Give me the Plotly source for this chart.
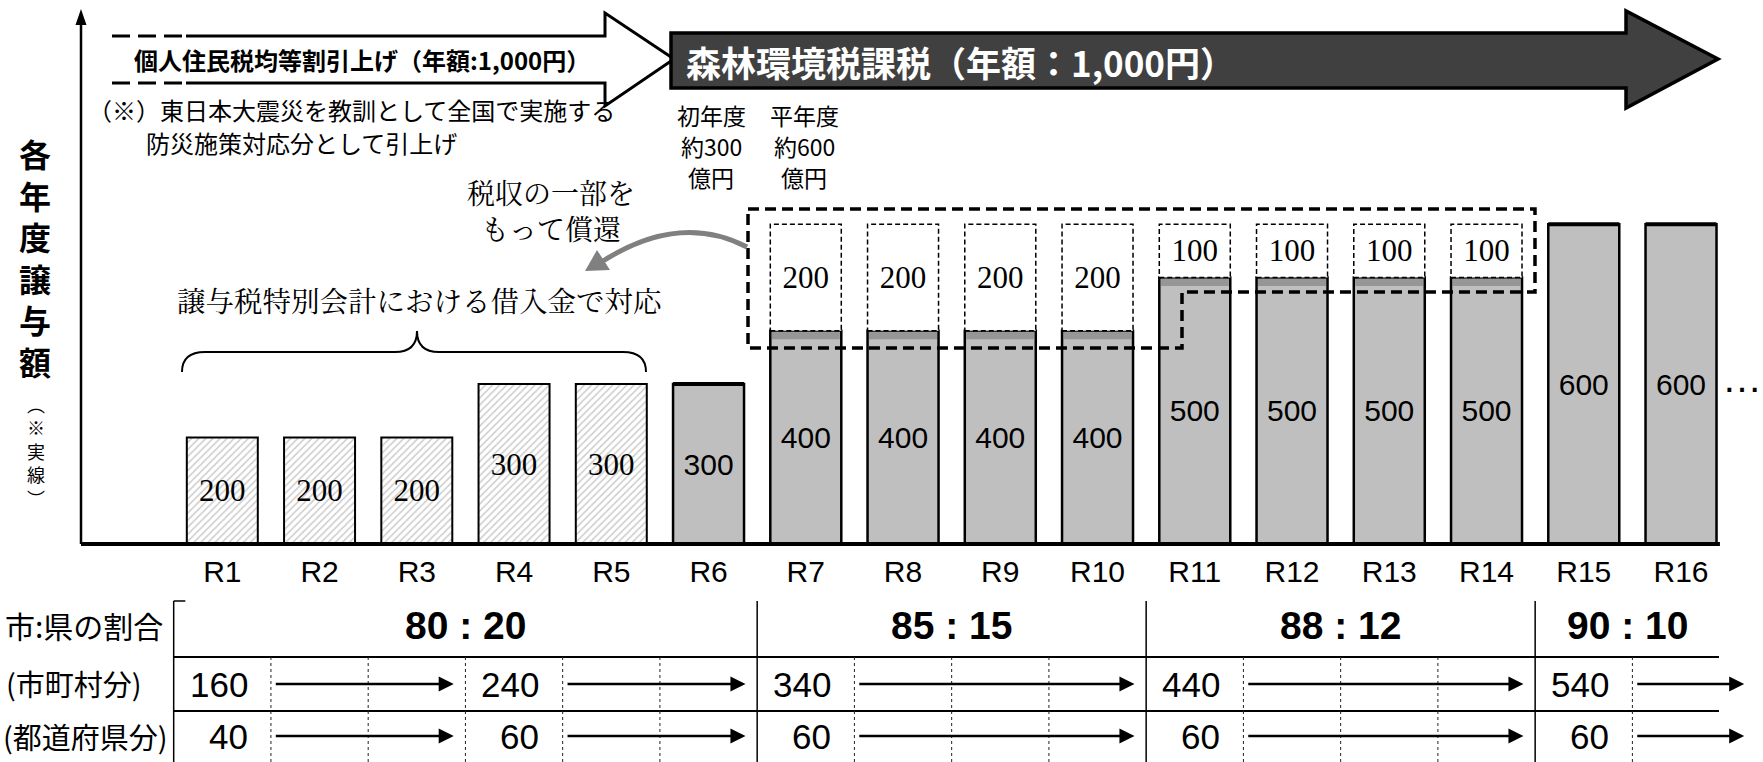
import plotly.graph_objects as go

# ---------------- data ----------------
years = ["R1", "R2", "R3", "R4", "R5", "R6", "R7", "R8",
         "R9", "R10", "R11", "R12", "R13", "R14", "R15", "R16"]
solid_amount = [200, 200, 200, 300, 300, 300, 400, 400,
                400, 400, 500, 500, 500, 500, 600, 600]
repayment = [0, 0, 0, 0, 0, 0, 200, 200,
             200, 200, 100, 100, 100, 100, 0, 0]
loan_funded = [True, True, True, True, True, False, False, False,
               False, False, False, False, False, False, False, False]
ratio_labels = ["80 : 20", "85 : 15", "88 : 12", "90 : 10"]
ratio_start = [1, 7, 11, 15]
share_start = [1, 4, 7, 11, 15]
municipal_share = [160, 240, 340, 440, 540]
prefectural_share = [40, 60, 60, 60, 60]

# ---------------- geometry helpers ----------------
W, H = 1763, 762
BASE_PX = 544
UNIT_PX = 0.533
X_RANGE = [-1.286, 16.843]
TABLE_RIGHT = 16.39
BAR_W = 0.73

JP = "Noto Sans CJK JP, sans-serif"
JP_SERIF = "Noto Serif CJK JP, Noto Sans CJK JP, serif"
LAT = "Liberation Sans, Arial, sans-serif"
SERIF = "Liberation Serif, Times New Roman, serif"


def xp(v):
    return v / W


def yp(v):
    return 1 - v / H


def path(cmds, close=False):
    out = []
    for letter, pts in cmds:
        if letter == "Q":
            for i in range(0, len(pts), 2):
                (a, b), (c, d) = pts[i], pts[i + 1]
                out.append(f"Q {xp(a):.5f},{yp(b):.5f} {xp(c):.5f},{yp(d):.5f}")
        else:
            for a, b in pts:
                out.append(f"{letter} {xp(a):.5f},{yp(b):.5f}")
    if close:
        out.append("Z")
    return " ".join(out)


pos = list(range(1, len(years) + 1))
fig = go.Figure()

# ---------------- bars ----------------
loan_x = [p for p, f in zip(pos, loan_funded) if f]
loan_y = [v for v, f in zip(solid_amount, loan_funded) if f]
tax_x = [p for p, f in zip(pos, loan_funded) if not f]
tax_y = [v for v, f in zip(solid_amount, loan_funded) if not f]
rep_x = [p for p, r in zip(pos, repayment) if r]
rep_v = [r for r in repayment if r]
rep_base = [v for v, r in zip(solid_amount, repayment) if r]

fig.add_bar(x=loan_x, y=loan_y, width=BAR_W,
            marker=dict(color="white",
                        pattern=dict(shape="/", fgcolor="#9a9a9a", bgcolor="white", size=5, solidity=0.3),
                        line=dict(color="black", width=2)),
            text=[str(v) for v in loan_y], textposition="inside", insidetextanchor="middle",
            textangle=0, textfont=dict(family=SERIF, size=31, color="black"), hoverinfo="skip")
fig.add_bar(x=tax_x, y=tax_y, width=BAR_W,
            marker=dict(color="#bfbfbf", line=dict(color="black", width=2.5)),
            text=[str(v) for v in tax_y], textposition="inside", insidetextanchor="middle",
            textangle=0, textfont=dict(family=LAT, size=30, color="black"), hoverinfo="skip")
fig.add_bar(x=rep_x, y=rep_v, base=rep_base, width=BAR_W,
            marker=dict(color="white", line=dict(width=0)),
            text=[str(v) for v in rep_v], textposition="inside", insidetextanchor="middle",
            textangle=0, textfont=dict(family=SERIF, size=31, color="black"), hoverinfo="skip")

shapes = []
# dark band at top of solid part under repayment boxes, dashed boxes
for p, b, r in zip(rep_x, rep_base, rep_v):
    shapes.append(dict(type="rect", xref="x", yref="y", x0=p - BAR_W / 2 + 0.015, x1=p + BAR_W / 2 - 0.015,
                       y0=b - 16, y1=b, fillcolor="rgba(100,100,100,0.45)", line=dict(width=0), layer="above"))
    shapes.append(dict(type="rect", xref="x", yref="y", x0=p - BAR_W / 2, x1=p + BAR_W / 2,
                       y0=b, y1=b + r, line=dict(color="black", width=1.5, dash="5px,3px"), layer="above"))
# thick tops on plain tax bars
for p, v, r, f in zip(pos, solid_amount, repayment, loan_funded):
    if not f and r == 0:
        shapes.append(dict(type="line", xref="x", yref="y", x0=p - BAR_W / 2, x1=p + BAR_W / 2,
                           y0=v, y1=v, line=dict(color="black", width=4)))

# axes lines
shapes.append(dict(type="line", xref="x", yref="paper", x0=-0.453, x1=16.40,
                   y0=yp(BASE_PX), y1=yp(BASE_PX), line=dict(color="black", width=4)))
shapes.append(dict(type="line", xref="paper", yref="paper", x0=xp(81), x1=xp(81),
                   y0=yp(BASE_PX), y1=yp(22), line=dict(color="black", width=2.5)))
shapes.append(dict(type="path", xref="paper", yref="paper",
                   path=path([("M", [(81, 9)]), ("L", [(75.5, 25), (86.5, 25)])], close=True),
                   fillcolor="black", line=dict(width=0)))

# top-left outlined arrow
shapes.append(dict(type="path", xref="paper", yref="paper",
                   path=path([("M", [(186, 36)]), ("L", [(605, 36), (605, 13), (674, 59), (605, 106), (605, 83), (186, 83)])]),
                   fillcolor="white", line=dict(color="black", width=3)))
for yy in (36, 83):
    shapes.append(dict(type="line", xref="paper", yref="paper", x0=xp(112), x1=xp(186), y0=yp(yy), y1=yp(yy),
                       line=dict(color="black", width=3, dash="18px,8px")))
# dark arrow
shapes.append(dict(type="path", xref="paper", yref="paper",
                   path=path([("M", [(671, 33)]), ("L", [(1626, 33), (1626, 11), (1718, 59), (1626, 108), (1626, 88), (671, 88)])], close=True),
                   fillcolor="#404040", line=dict(color="black", width=3.5)))

# big dashed enclosure
shapes.append(dict(type="path", xref="paper", yref="paper",
                   path=path([("M", [(748, 209)]), ("L", [(1535, 209), (1535, 292), (1182, 292), (1182, 348), (748, 348)])], close=True),
                   line=dict(color="black", width=3.5, dash="11px,6px")))

# curved gray arrow
shapes.append(dict(type="path", xref="paper", yref="paper",
                   path=path([("M", [(747, 247)]), ("Q", [(680, 212), (603, 261)])]),
                   line=dict(color="#808080", width=5)))
shapes.append(dict(type="path", xref="paper", yref="paper",
                   path=path([("M", [(585, 271)]), ("L", [(610, 270), (597, 250)])], close=True),
                   fillcolor="#808080", line=dict(width=0)))

# brace
shapes.append(dict(type="path", xref="paper", yref="paper",
                   path=path([("M", [(182, 372)]), ("Q", [(182, 352), (205, 352)]), ("L", [(395, 352)]),
                              ("Q", [(417, 352), (417, 331)]), ("Q", [(417, 352), (439, 352)]), ("L", [(623, 352)]),
                              ("Q", [(646, 352), (646, 372)])]),
                   line=dict(color="black", width=2)))

# ---------------- table ----------------
T_TOP, R1_B, R2_B, T_BOT = 601, 657, 711, 762
left_edge = pos[0] - 0.5
for yy in (R1_B, R2_B):
    shapes.append(dict(type="line", xref="x", yref="paper", x0=left_edge, x1=TABLE_RIGHT,
                       y0=yp(yy), y1=yp(yy), line=dict(color="black", width=1.8)))
shapes.append(dict(type="line", xref="x", yref="paper", x0=left_edge, x1=left_edge,
                   y0=yp(T_TOP), y1=yp(T_BOT), line=dict(color="black", width=1.5)))
shapes.append(dict(type="line", xref="x", yref="paper", x0=left_edge, x1=left_edge + 0.12,
                   y0=yp(T_TOP), y1=yp(T_TOP), line=dict(color="black", width=1.5)))
group_bounds = [s - 0.5 for s in ratio_start[1:]]
for b in group_bounds:
    shapes.append(dict(type="line", xref="x", yref="paper", x0=b, x1=b,
                       y0=yp(T_TOP), y1=yp(T_BOT), line=dict(color="black", width=1.5)))
for p in pos[:-1]:
    b = p + 0.5
    if b not in group_bounds:
        shapes.append(dict(type="line", xref="x", yref="paper", x0=b, x1=b,
                           y0=yp(R1_B), y1=yp(T_BOT), line=dict(color="#222222", width=1, dash="dot")))

annotations = []
# ratio labels
bounds = [left_edge] + group_bounds + [TABLE_RIGHT]
for k, lab in enumerate(ratio_labels):
    annotations.append(dict(x=(bounds[k] + bounds[k + 1]) / 2, y=yp(625), xref="x", yref="paper",
                            yanchor="middle", text=f"<b>{lab}</b>", showarrow=False,
                            font=dict(family=LAT, size=39, color="black")))
# share values and arrows
next_start = share_start[1:] + [None]
for k, s in enumerate(share_start):
    for val, ycen in ((municipal_share[k], 684), (prefectural_share[k], 736)):
        annotations.append(dict(x=s + 0.28, y=yp(ycen), xref="x", yref="paper", xanchor="right",
                                yanchor="middle", text=str(val), showarrow=False,
                                font=dict(family=LAT, size=35, color="black")))
        x0 = s + 0.5 + 0.05
        x1 = (next_start[k] - 0.5 - 0.12) if next_start[k] else 16.65
        shapes.append(dict(type="line", xref="x", yref="paper", x0=x0, x1=x1 - 0.1,
                           y0=yp(ycen), y1=yp(ycen), line=dict(color="black", width=2.7)))
        shapes.append(dict(type="path", xref="x", yref="paper",
                           path=f"M {x1:.4f},{yp(ycen):.5f} L {x1 - 0.155:.4f},{yp(ycen - 7.5):.5f} L {x1 - 0.155:.4f},{yp(ycen + 7.5):.5f} Z",
                           fillcolor="black", line=dict(width=0)))

row_labels = ["市:県の割合", "(市町村分)", "(都道府県分)"]
for lab, yc, xx, sz in zip(row_labels, (625, 683, 736), (3, 4, 1), (30, 29, 29)):
    annotations.append(dict(x=xp(xx), y=yp(yc), xref="paper", yref="paper", xanchor="left",
                            yanchor="middle", text=lab, showarrow=False,
                            font=dict(family=JP, size=sz, color="black")))


# ---------------- texts ----------------
def note(text, x, y, size, family=JP, color="black", xanchor="center", bold=False):
    annotations.append(dict(x=xp(x), y=yp(y), xref="paper", yref="paper", xanchor=xanchor, yanchor="middle",
                            text=f"<b>{text}</b>" if bold else text, showarrow=False,
                            font=dict(family=family, size=size, color=color)))


note("個人住民税均等割引上げ（年額:1,000円）", 362, 60, 24, bold=True)
note("森林環境税課税（年額：1,000円）", 684, 61, 35, color="white", xanchor="left", bold=True)
note("（※）東日本大震災を教訓として全国で実施する", 86, 109, 24, xanchor="left")
note("防災施策対応分として引上げ", 144, 142, 24, xanchor="left")
for cx, lines in ((711, ["初年度", "約300", "億円"]), (804, ["平年度", "約600", "億円"])):
    for ln, yy in zip(lines, (115, 146, 177)):
        note(ln, cx, yy, 23)
note("税収の一部を<br>もって償還", 551, 210, 28, family=JP_SERIF)
note("譲与税特別会計における借入金で対応", 420, 299, 28.5, family=JP_SERIF)
note("…", 1720, 378, 40, family=LAT, xanchor="left")

note("<br>".join("各年度譲与額"), 35, 257, 32, bold=True)
note("<br>".join("︵※実線︶"), 36, 451, 18)

# ---------------- layout ----------------
fig.update_layout(
    width=W, height=H, margin=dict(l=0, r=0, t=0, b=0),
    paper_bgcolor="white", plot_bgcolor="rgba(0,0,0,0)",
    showlegend=False, barmode="overlay",
    xaxis=dict(domain=[0, 1], range=X_RANGE, tickvals=pos, ticktext=years, showgrid=False,
               zeroline=False, showline=False, ticks="", ticklabelstandoff=7,
               tickfont=dict(family=LAT, size=30, color="black"), fixedrange=True),
    yaxis=dict(domain=[1 - BASE_PX / H, 1 - 22 / H], range=[0, (BASE_PX - 22) / UNIT_PX],
               visible=False, fixedrange=True),
    shapes=shapes, annotations=annotations,
)

fig.write_html("out.html")
